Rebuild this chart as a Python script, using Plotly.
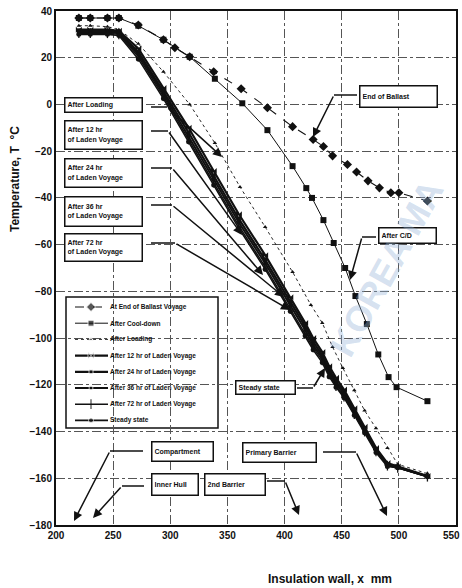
import plotly.graph_objects as go

# ---------------- data ----------------
x_ballast = [220, 230, 245, 255, 272, 294, 304, 317, 338, 362, 385, 407, 425, 434, 442, 455, 463, 473, 483, 493, 500, 525]
t_ballast = [37, 37, 37, 37, 34, 27.7, 24.3, 20.4, 14, 6.7, -1.4, -9.5, -15, -18, -22, -25.7, -28.9, -32.7, -35.7, -37.8, -37.8, -41.3]

x_cool = [220, 230, 245, 255, 272, 294, 317, 339, 363, 385, 407, 419, 424, 434, 443, 453, 462, 472, 482, 491, 498, 525]
t_cool = [37, 37, 37, 37, 33.7, 27.7, 20.4, 11, 0.5, -11, -26.4, -35.8, -40, -49.5, -59.3, -70, -82, -94, -107, -116.7, -121, -127]

x_loading = [220, 230, 245, 255, 272, 294, 317, 339, 361, 383, 407, 423, 433, 442, 451, 461, 470, 480, 490, 499, 525]
t_loading = [33.7, 33.7, 33.3, 32, 26, 14, 0, -16.5, -35.3, -52.4, -71.7, -85.8, -93.5, -103.8, -112.8, -122.3, -131, -138.6, -147, -154, -158]

x_laden = [220, 230, 245, 255, 272, 294, 316, 338, 360, 383, 405, 418, 425, 433, 439, 445, 452, 461, 470, 480, 490, 499, 525]
t_12hr = [32, 32, 32, 31.5, 24, 7, -10, -28.5, -47, -64.5, -82.5, -93.5, -100, -106, -112, -117, -122, -130, -138, -147, -153.5, -155, -159]
t_24hr = [31.5, 31.5, 31.5, 31, 22.5, 5.5, -12, -30.5, -49, -66.5, -84.5, -95, -101.5, -107.5, -113.5, -118.5, -123, -131, -139, -147.5, -154, -155.3, -159.2]
t_36hr = [31, 31, 31, 30.5, 21.5, 4.5, -13.5, -32, -50.5, -68, -86, -96.5, -103, -108.5, -114.5, -119.5, -124, -131.7, -139.4, -148, -154.4, -155.3, -159.2]
t_72hr = [30.5, 30.5, 30.5, 30, 20.5, 3.5, -15, -33.5, -52, -69.5, -87.5, -98, -104, -109.5, -115.5, -120.5, -125, -132.5, -140, -148.5, -154.6, -155.5, -159.3]
t_steady = [30, 30, 30, 29.5, 19.5, 2.5, -16, -34.5, -53, -70.5, -88.5, -99, -105, -110.5, -116.5, -121, -125.5, -133, -140.5, -149, -155, -155.5, -159.3]

series_names = ["At End of Ballast Voyage", "After Cool-down", "After Loading",
                "After 12 hr of Laden Voyage", "After 24 hr of Laden Voyage",
                "After 36 hr of Laden Voyage", "After 72 hr of Laden Voyage", "Steady state"]
x_ticks = [200, 250, 300, 350, 400, 450, 500, 550]
y_ticks = [40, 20, 0, -20, -40, -60, -80, -100, -120, -140, -160, -180]

# ---------------- layout geometry (page pixels) ----------------
W, H = 462, 588
PL, PR, PT, PB = 56, 456, 11, 525      # plot area
ML, MT, MR, MB = PL, PT, W - PR, H - PB
X0, X1 = 200, 550
Y0, Y1 = -180, 40
PW = PR - PL
PH = PB - PT

def dx(px):
    return X0 + (px - PL) / PW * (X1 - X0)

def dy(py):
    return Y1 - (py - PT) / PH * (Y1 - Y0)

def ppx(px):
    return (px - PL) / PW

def ppy(py):
    return 1 - (py - PT) / PH

FONT = "Liberation Sans"
BLACK = "#111111"
TICKFONT = dict(family=FONT, size=10, color=BLACK, weight="bold")

styles = [
    (dict(dash="dash", width=1.1), dict(symbol="diamond", size=7)),
    (dict(dash="solid", width=1), dict(symbol="square", size=6)),
    (dict(dash="dot", width=0.9), dict(symbol="triangle-up", size=4)),
    (dict(dash="solid", width=2.2), dict(symbol="bowtie", size=6)),
    (dict(dash="solid", width=2.2), dict(symbol="square", size=4)),
    (dict(dash="solid", width=2.0), dict(symbol="circle", size=4)),
    (dict(dash="solid", width=1.5), dict(symbol="line-ns", size=7, line=dict(width=1.3, color=BLACK))),
    (dict(dash="solid", width=1.6), dict(symbol="circle", size=5)),
]
xs = [x_ballast, x_cool, x_loading, x_laden, x_laden, x_laden, x_laden, x_laden]
ts = [t_ballast, t_cool, t_loading, t_12hr, t_24hr, t_36hr, t_72hr, t_steady]

fig = go.Figure()
for name, x, t, (ln, mk) in zip(series_names, xs, ts, styles):
    fig.add_trace(go.Scatter(x=x, y=t, name=name, mode="lines+markers",
                             line=dict(color=BLACK, **ln),
                             marker=dict(color=BLACK, **mk), showlegend=False))

# ---------------- hand-made legend (compact like the reference) ----------------
leg_left, leg_right, leg_top, leg_bot = 66, 218, 297, 428
shapes = [dict(type="rect", xref="paper", yref="paper",
               x0=ppx(leg_left), x1=ppx(leg_right), y0=ppy(leg_bot), y1=ppy(leg_top),
               line=dict(color=BLACK, width=1.5), fillcolor="white", layer="between")]
annotations = []
for i, (name, (ln, mk)) in enumerate(zip(series_names, styles)):
    row = 307 + 16.2 * i
    yv = ppy(row)
    fig.add_trace(go.Scatter(x=[ppx(75), ppx(91), ppx(108)], y=[yv, yv, yv],
                             xaxis="x2", yaxis="y2", mode="lines+markers",
                             line=dict(color=BLACK, **ln),
                             marker=dict(color=BLACK, **{**mk, "size": [0, mk["size"], 0]}),
                             showlegend=False, hoverinfo="skip"))
    annotations.append(dict(xref="paper", yref="paper", x=ppx(108), y=yv, xanchor="left",
                            yanchor="middle", text=name, showarrow=False,
                            font=dict(family=FONT, size=6.5, color=BLACK, weight="bold")))

# ---------------- callout boxes ----------------
def box(text, cx, cy, w, h):
    annotations.append(dict(x=dx(cx), y=dy(cy), xref="x", yref="y", text=text, showarrow=False,
                            xanchor="center", yanchor="middle",
                            align="left", width=w, height=h, bgcolor="white",
                            bordercolor=BLACK, borderwidth=1.5, borderpad=2,
                            font=dict(family=FONT, size=7, color=BLACK, weight="bold")))

def leader(p0, p1, head):
    shapes.append(dict(type="line", xref="x", yref="y", x0=dx(p0[0]), y0=dy(p0[1]),
                       x1=dx(p1[0]), y1=dy(p1[1]), line=dict(color=BLACK, width=1.5), layer="above"))
    annotations.append(dict(x=dx(head[0]), y=dy(head[1]), ax=dx(p1[0]), ay=dy(p1[1]),
                            xref="x", yref="y", axref="x", ayref="y", text="", showarrow=True,
                            arrowhead=2, arrowsize=1.2, arrowwidth=1.5, arrowcolor=BLACK))

box("After Loading", 103, 104.5, 72, 9)
leader((151, 107), (167, 107), (222, 157))
box("After 12 hr<br>of Laden Voyage", 103, 135, 72, 23)
leader((151, 131), (168, 131), (242, 235))
box("After 24 hr<br>of Laden Voyage", 103, 172.5, 72, 23)
leader((151, 168), (172, 168), (263, 275))
box("After 36 hr<br>of Laden Voyage", 103, 211, 72, 24)
leader((151, 205), (172, 205), (284, 297))
box("After 72 hr<br>of Laden Voyage", 103, 247, 72, 22)
leader((151, 243), (175, 243), (290, 310))
box("End of Ballast", 398, 96.5, 72, 16)
leader((357, 95), (334, 95), (313, 137))
box("After C/D", 407, 235.5, 52, 10)
leader((376, 237), (362, 237), (350, 280))
box("Steady state", 265, 387.5, 54, 8)
leader((297, 388), (313, 388), (325, 368))
box("Compartment", 182, 451.5, 56, 14)
leader((143, 451), (110, 451), (74, 521))
box("Inner Hull", 174.5, 484.5, 41, 16)
leader((144, 486), (122, 486), (93, 518))
box("2nd Barrier", 234.5, 484.5, 55, 16)
leader((267, 481), (285, 481), (299, 515))
box("Primary Barrier", 279, 452.5, 68, 14)
leader((323, 452), (356, 452), (387, 516))

# watermark of the scanned source
annotations.append(dict(xref="paper", yref="paper", x=ppx(386), y=ppy(268), text="KOREA MA",
                        showarrow=False, textangle=-61, xanchor="center", yanchor="middle",
                        font=dict(family=FONT, size=36, color="rgba(150,180,215,0.4)", weight="bold")))

# axis titles
annotations.append(dict(xref="paper", yref="paper", x=ppx(15), y=ppy(179), text="Temperature, T  \u00b0C",
                        showarrow=False, textangle=-90, xanchor="center", yanchor="middle",
                        font=dict(family=FONT, size=12, color=BLACK, weight="bold")))
annotations.append(dict(xref="paper", yref="paper", x=ppx(330), y=ppy(579), text="Insulation wall, x  mm",
                        showarrow=False, xanchor="center", yanchor="middle",
                        font=dict(family=FONT, size=12, color=BLACK, weight="bold")))

# the last x tick label sits at the page edge: keep it whole by right-aligning it there
x_ticktext = [str(v) for v in x_ticks[:-1]] + [""]
annotations.append(dict(xref="x", yref="paper", x=x_ticks[-1], y=0, yshift=-10, xshift=6,
                        xanchor="right", yanchor="middle", text=str(x_ticks[-1]),
                        showarrow=False, font=TICKFONT))

axis_common = dict(showline=True, linecolor=BLACK, linewidth=2, mirror=True,
                   showgrid=True, gridcolor="#555555", gridwidth=0.8, griddash="dashdot",
                   zeroline=False, ticks="", ticklabeloverflow="allow", tickfont=TICKFONT)

fig.update_layout(
    width=W, height=H, margin=dict(l=ML, r=MR, t=MT, b=MB, autoexpand=False),
    paper_bgcolor="white", plot_bgcolor="white",
    xaxis=dict(range=[X0, X1], tickvals=x_ticks, ticktext=x_ticktext, **axis_common),
    yaxis=dict(range=[Y0, Y1], tickvals=y_ticks, **axis_common),
    xaxis2=dict(overlaying="x", range=[0, 1], visible=False),
    yaxis2=dict(overlaying="y", range=[0, 1], visible=False, anchor="x2"),
    shapes=shapes, annotations=annotations, showlegend=False,
)

# the page body's default 8 px margin would shift the figure; remove it
fig.write_html("out.html", config={"displayModeBar": False},
               post_script="document.body.style.margin='0px';")
